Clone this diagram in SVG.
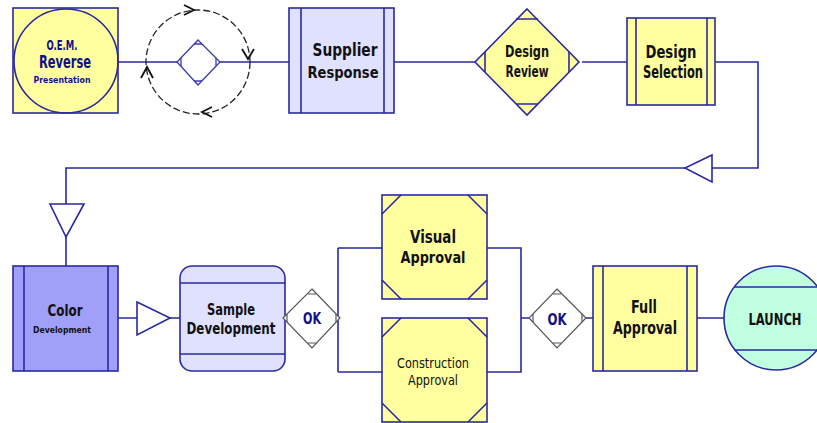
<svg xmlns="http://www.w3.org/2000/svg" width="817" height="423" viewBox="0 0 817 423">
<style>
.s{stroke:#2a2aa0;stroke-width:1.6;}
.y{fill:#ffffa0;}
.l{fill:#e0e0ff;}
.c{fill:none;stroke:#2a2aa0;stroke-width:1.6;}
.t{font-family:"Liberation Sans Narrow","DejaVu Sans Condensed","Liberation Sans",sans-serif;font-weight:bold;text-anchor:middle;fill:#111;}
.n{fill:#10108a;}
.r{font-weight:normal;}
.g{fill:#fff;stroke:#555;stroke-width:1.2;}
</style>
<rect width="817" height="423" fill="#fff"/>
<g id="connectors">
<path class="c" d="M118,62H177M220,62H289M394,62H475M582,62H627"/>
<path class="c" d="M715,62H758V168H66V266"/>
<path class="c" style="fill:#fff" d="M712,155L685,168L712,182Z"/>
<path class="c" style="fill:#fff" d="M50,204H84L66,237Z"/>
<path class="c" d="M118,318H137M170,318H180"/>
<path class="c" style="fill:#fff" d="M137,302L170,318L137,335Z"/>
<path class="c" d="M340,318H338M338,248V372M338,248H382M338,372H382"/>
<path class="c" d="M487,248H521V372H487M521,318H529M586,318H593M697,318H725"/>
</g>
<g id="oem">
<rect class="s y" x="13" y="8" width="105" height="105"/>
<circle class="c" cx="66" cy="61" r="52"/>
<text class="t n" x="62" y="50" font-size="14" textLength="31" lengthAdjust="spacingAndGlyphs">O.E.M.</text>
<text class="t n" x="65" y="68" font-size="17" textLength="52" lengthAdjust="spacingAndGlyphs">Reverse</text>
<text class="t n" x="62" y="83" font-size="9" textLength="57" lengthAdjust="spacingAndGlyphs">Presentation</text>
</g>
<g id="cycle">
<circle cx="198" cy="62" r="52" fill="none" stroke="#222" stroke-width="1.3" stroke-dasharray="7,3"/>
<path d="M184,5L194,10L184,15M242,49L248,59L254,49M212,107L202,112L212,117M141,78L147,67L153,78" fill="none" stroke="#111" stroke-width="1.8"/>
<path d="M198,40L220,62L198,85L177,62Z" fill="#fff" stroke="#3a3ab0" stroke-width="1.3"/>
<path d="M194,44H202M194,81H202M181,58V66M216,58V66" stroke="#3a3ab0" stroke-width="1.3"/>
</g>
<g id="supplier">
<rect class="s l" x="289" y="8" width="105" height="105"/>
<path class="c" d="M301,8V113M384,8V113"/>
<text class="t" x="345" y="56" font-size="17" textLength="65" lengthAdjust="spacingAndGlyphs">Supplier</text>
<text class="t" x="343" y="78" font-size="16" textLength="71" lengthAdjust="spacingAndGlyphs">Response</text>
</g>
<g id="design-review">
<path class="s y" d="M527,9L579,62L527,115L475,62Z"/>
<path class="c" d="M516,19H538M516,104H538M485,52V72M569,52V72"/>
<text class="t" x="527" y="57" font-size="16" textLength="44" lengthAdjust="spacingAndGlyphs">Design</text>
<text class="t" x="527" y="77" font-size="16" textLength="43" lengthAdjust="spacingAndGlyphs">Review</text>
</g>
<g id="design-selection">
<rect class="s y" x="627" y="18" width="88" height="87"/>
<path class="c" d="M636,18V105M707,18V105"/>
<text class="t" x="671" y="58" font-size="17" textLength="51" lengthAdjust="spacingAndGlyphs">Design</text>
<text class="t" x="673" y="78" font-size="17" textLength="60" lengthAdjust="spacingAndGlyphs">Selection</text>
</g>
<g id="color">
<rect class="s" fill="#a0a0f8" x="13" y="266" width="105" height="105"/>
<path class="c" d="M24,266V371M108,266V371"/>
<text class="t" x="65" y="316" font-size="15" textLength="35" lengthAdjust="spacingAndGlyphs">Color</text>
<text class="t" x="62" y="333" font-size="9" textLength="58" lengthAdjust="spacingAndGlyphs">Development</text>
</g>
<g id="sample">
<rect class="s l" x="180" y="266" width="105" height="105" rx="12"/>
<path class="c" d="M180,283H285M180,354H285"/>
<text class="t" x="231" y="315" font-size="16" textLength="48" lengthAdjust="spacingAndGlyphs">Sample</text>
<text class="t" x="231" y="334" font-size="15" textLength="89" lengthAdjust="spacingAndGlyphs">Development</text>
</g>
<g id="ok1">
<path class="g" d="M312,289L340,318L312,348L283,318Z"/>
<path d="M308,294H316M308,343H316M287,314V322M336,314V322" stroke="#555" stroke-width="1.2"/>
<text class="t n" x="312" y="324" font-size="16" textLength="18" lengthAdjust="spacingAndGlyphs">OK</text>
</g>
<g id="visual">
<rect class="s y" x="382" y="195" width="105" height="104"/>
<path class="c" d="M382,214L401,195M468,195L487,214M382,280L401,299M468,299L487,280"/>
<text class="t" x="433" y="243" font-size="18" textLength="46" lengthAdjust="spacingAndGlyphs">Visual</text>
<text class="t" x="433" y="263" font-size="16" textLength="65" lengthAdjust="spacingAndGlyphs">Approval</text>
</g>
<g id="construction">
<rect class="s y" x="382" y="318" width="105" height="104"/>
<path class="c" d="M382,337L401,318M468,318L487,337M382,403L401,422M468,422L487,403"/>
<text class="t r" x="433" y="368" font-size="13.5" textLength="72" lengthAdjust="spacingAndGlyphs">Construction</text>
<text class="t r" x="433" y="385" font-size="13.5" textLength="50" lengthAdjust="spacingAndGlyphs">Approval</text>
</g>
<g id="ok2">
<path class="g" d="M557,289L586,318L557,348L529,318Z"/>
<path d="M553,294H561M553,343H561M533,314V322M582,314V322" stroke="#555" stroke-width="1.2"/>
<text class="t n" x="557" y="325" font-size="16" textLength="19" lengthAdjust="spacingAndGlyphs">OK</text>
</g>
<g id="full">
<rect class="s y" x="593" y="266" width="104" height="105"/>
<path class="c" d="M603,266V371M687,266V371"/>
<text class="t" x="644" y="313" font-size="17" textLength="26" lengthAdjust="spacingAndGlyphs">Full</text>
<text class="t" x="645" y="334" font-size="17" textLength="64" lengthAdjust="spacingAndGlyphs">Approval</text>
</g>
<g id="launch">
<circle class="s" fill="#c0ffe0" cx="776" cy="318" r="52"/>
<path class="c" d="M734,287H818M734,350H818"/>
<text class="t" x="775" y="325" font-size="16" textLength="53" lengthAdjust="spacingAndGlyphs">LAUNCH</text>
</g>
</svg>
